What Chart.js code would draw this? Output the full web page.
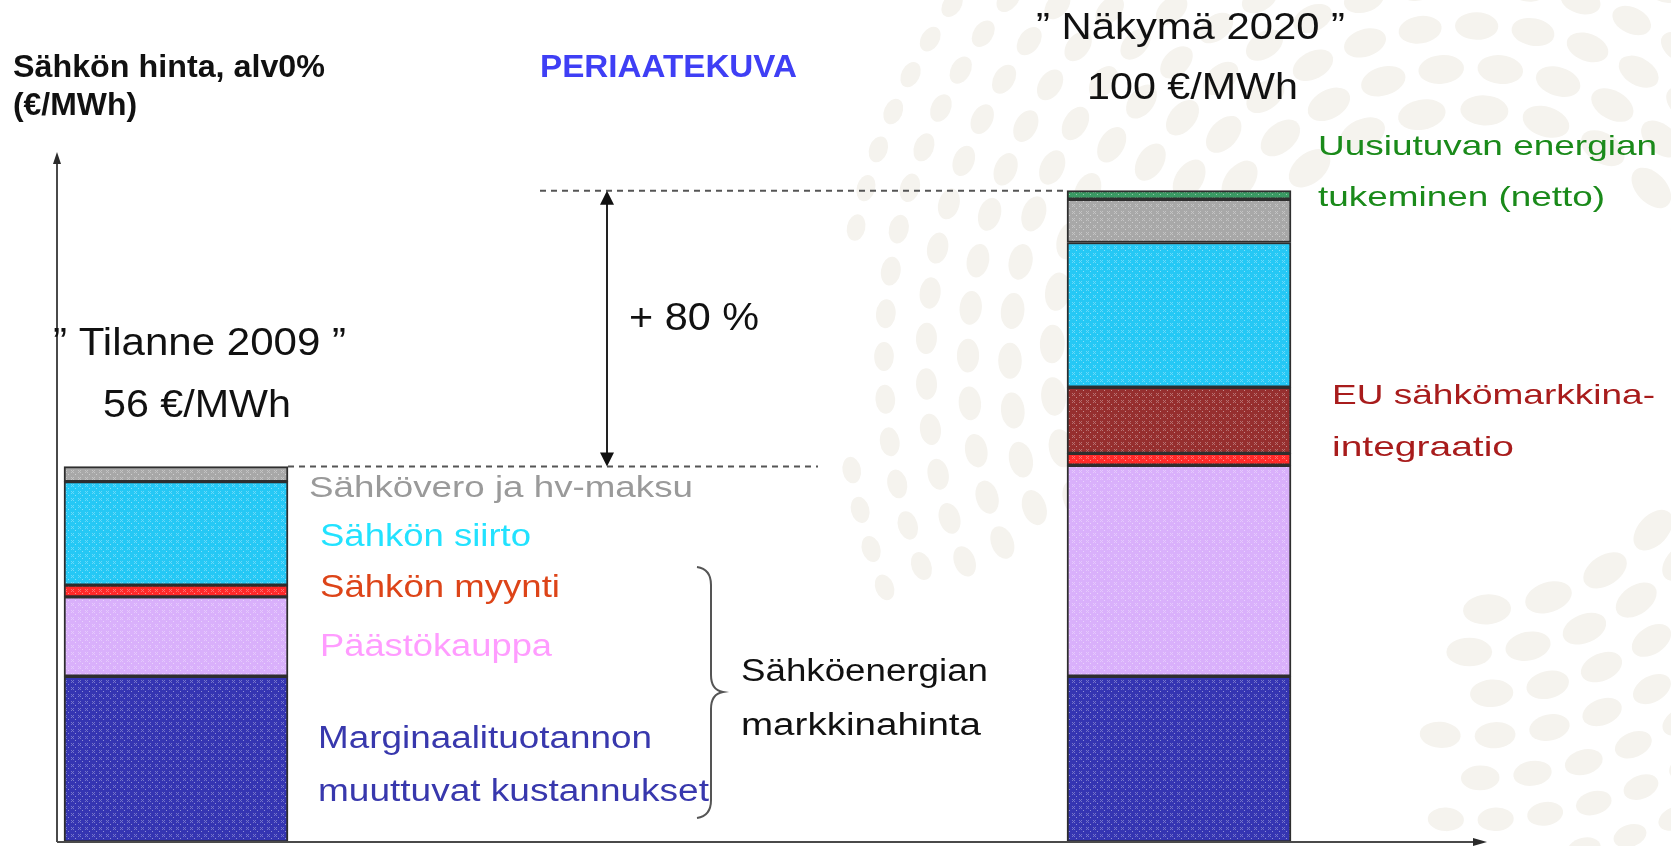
<!DOCTYPE html>
<html lang="fi">
<head>
<meta charset="UTF-8">
<title>Sähkön hinta 2009 / 2020</title>
<script src="https://cdn.jsdelivr.net/npm/chart.js"></script>
<style>
  html, body { margin: 0; padding: 0; background: #fff; }
  #wrap { width: 1671px; height: 846px; position: relative; }
</style>
</head>
<body>
<div id="wrap"><canvas id="priceChart"></canvas></div>
<script>
// categories (bar index 0 = 2009, 1 = 2020)
const categories = ['Tilanne 2009', 'Näkymä 2020'];
const totalLabels = ['56 €/MWh', '100 €/MWh'];

// stacked components, €/MWh, bottom to top
const marginaali = [25.3, 25.3];
const paastokauppa = [12.1, 32.2];
const myynti = [1.8, 1.8];
const euIntegraatio = [null, 10.1];
const siirto = [15.8, 22.1];
const vero = [2.3, 6.6];
const uusiutuva = [null, 1.3];

const FONT = '"Liberation Sans", Arial, sans-serif';

// small cross-hatch texture like the original bars
function texture(base) {
    const c = document.createElement('canvas');
    c.width = 7; c.height = 7;
    const g = c.getContext('2d');
    g.fillStyle = base;
    g.fillRect(0, 0, 7, 7);
    g.fillStyle = 'rgba(255,255,255,0.32)';
    g.fillRect(1, 1, 1, 1); g.fillRect(3, 1, 1, 1);
    g.fillRect(2, 2, 1, 1);
    g.fillRect(1, 3, 1, 1); g.fillRect(3, 3, 1, 1);
    g.fillStyle = 'rgba(255,255,255,0.45)';
    g.fillRect(5, 5, 1, 1);
    return g.createPattern(c, 'repeat');
}

function toPoints(arr) {
    return arr.map((v, i) => ({ x: i, y: v }));
}

function ds(label, values, color) {
    return {
        label,
        data: toPoints(values),
        backgroundColor: texture(color),
        borderColor: '#2e2e2e',
        borderWidth: 2,
        borderSkipped: false,
        barThickness: 224
    };
}

// text annotations: text, left x, baseline, width, size, colour, bold
const notes = [
    ['Sähkön hinta, alv0%', 13, 77, 312, 32, '#111', true],
    ['(€/MWh)', 13, 115, 124, 32, '#111', true],
    ['PERIAATEKUVA', 540, 77, 257, 31, '#3f3ff5', true],
    ['” ' + categories[1] + ' ”', 1036, 39, 309, 36, '#111', false],
    [totalLabels[1], 1087, 99, 211, 37, '#111', false],
    ['Uusiutuvan energian', 1318, 155, 339, 28, '#1a8a1a', false],
    ['tukeminen (netto)', 1318, 206, 287, 28, '#1a8a1a', false],
    ['EU sähkömarkkina-', 1332, 404, 323, 28, '#a81c1c', false],
    ['integraatio', 1332, 456, 182, 28, '#a81c1c', false],
    ['” ' + categories[0] + ' ”', 53, 355, 293, 38, '#111', false],
    [totalLabels[0], 103, 417, 188, 38, '#111', false],
    ['+ 80 %', 629, 330, 130, 38, '#111', false],
    ['Sähkövero ja hv-maksu', 309, 497, 384, 30, '#9a9a9a', false],
    ['Sähkön siirto', 320, 546, 211, 31, '#22e2ff', false],
    ['Sähkön myynti', 320, 597, 240, 31, '#dd4418', false],
    ['Päästökauppa', 320, 656, 232, 31, '#ff9cff', false],
    ['Marginaalituotannon', 318, 748, 334, 31, '#3838ad', false],
    ['muuttuvat kustannukset', 318, 801, 391, 31, '#3838ad', false],
    ['Sähköenergian', 741, 681, 247, 31, '#111', false],
    ['markkinahinta', 741, 735, 240, 31, '#111', false]
];

function fitText(ctx, t) {
    const [str, x, base, w, size, color, bold] = t;
    ctx.font = (bold ? 'bold ' : '') + size + 'px ' + FONT;
    const m = ctx.measureText(str).width;
    ctx.save();
    ctx.translate(x, base);
    ctx.scale(w / m, 1);
    ctx.fillStyle = color;
    ctx.textBaseline = 'alphabetic';
    ctx.fillText(str, 0, 0);
    ctx.restore();
}

function arrowHead(ctx, x, y, dir, half, len) {
    // dir: 'up' | 'down' | 'right'
    ctx.beginPath();
    if (dir === 'up') {
        ctx.moveTo(x, y); ctx.lineTo(x - half, y + len); ctx.lineTo(x + half, y + len);
    } else if (dir === 'down') {
        ctx.moveTo(x, y); ctx.lineTo(x - half, y - len); ctx.lineTo(x + half, y - len);
    } else {
        ctx.moveTo(x, y); ctx.lineTo(x - len, y - half); ctx.lineTo(x - len, y + half);
    }
    ctx.closePath();
    ctx.fill();
}

// faint dotted swirl of the slide template
const backdrop = {
    id: 'backdrop',
    beforeDraw(chart) {
        const ctx = chart.ctx;
        ctx.save();
        ctx.fillStyle = '#fff';
        ctx.fillRect(0, 0, chart.width, chart.height);
        ctx.fillStyle = '#f5f3ee';
        const cx = 1470, cy = 360;
        for (let r = 250; r <= 640; r += 42) {
            const t = (r - 250) / 390;
            const a = 24 - 11 * t;
            const b = 15 - 6 * t;
            const n = Math.round(2 * Math.PI * r / (a * 2 + 14));
            for (let k = 0; k < n; k++) {
                const ang = k / n * 2 * Math.PI + r * 0.004;
                const deg = ang * 180 / Math.PI % 360;
                if (deg > 95 && deg < 158) continue;
                const x = cx + r * Math.cos(ang), y = cy + r * Math.sin(ang);
                if (x < 850 || y > 860 || y < -30) continue;
                ctx.beginPath();
                ctx.ellipse(x, y, b, a, ang, 0, 2 * Math.PI);
                ctx.fill();
            }
        }
        ctx.restore();
    }
};

const overlay = {
    id: 'overlay',
    afterDraw(chart) {
        const ctx = chart.ctx;
        const { left, right, top, bottom } = chart.chartArea;
        const xs = chart.scales.x, ys = chart.scales.y;
        const half = 112;
        const total = i => [marginaali, paastokauppa, myynti, euIntegraatio, siirto, vero, uusiutuva]
            .reduce((s, a) => s + (a[i] || 0), 0);
        const yOld = ys.getPixelForValue(total(0));
        const yNew = ys.getPixelForValue(total(1));
        const oldRight = xs.getPixelForValue(0) + half;
        const newLeft = xs.getPixelForValue(1) - half;

        ctx.save();
        // axes
        ctx.strokeStyle = '#4a4a4a';
        ctx.fillStyle = '#2a2a2a';
        ctx.lineWidth = 2;
        ctx.beginPath();
        ctx.moveTo(left, bottom); ctx.lineTo(left, top + 8);
        ctx.moveTo(left, bottom); ctx.lineTo(right - 10, bottom);
        ctx.stroke();
        arrowHead(ctx, left, top - 2, 'up', 4, 12);
        arrowHead(ctx, right, bottom, 'right', 4, 14);

        // dashed reference lines
        ctx.strokeStyle = '#555';
        ctx.setLineDash([6, 5]);
        ctx.beginPath();
        ctx.moveTo(540, yNew); ctx.lineTo(newLeft, yNew);
        ctx.moveTo(oldRight, yOld); ctx.lineTo(818, yOld);
        ctx.stroke();
        ctx.setLineDash([]);

        // double arrow for the increase
        ctx.strokeStyle = '#222';
        ctx.fillStyle = '#111';
        ctx.beginPath();
        ctx.moveTo(607, yNew + 10); ctx.lineTo(607, yOld - 10);
        ctx.stroke();
        arrowHead(ctx, 607, yNew, 'up', 7, 14);
        arrowHead(ctx, 607, yOld, 'down', 7, 14);

        // curly brace
        ctx.strokeStyle = '#555';
        ctx.lineWidth = 2;
        ctx.beginPath();
        ctx.moveTo(697, 567);
        ctx.quadraticCurveTo(711, 569, 711, 585);
        ctx.lineTo(711, 675);
        ctx.quadraticCurveTo(711, 690, 723, 692);
        ctx.quadraticCurveTo(711, 694, 711, 709);
        ctx.lineTo(711, 800);
        ctx.quadraticCurveTo(711, 816, 697, 818);
        ctx.stroke();

        notes.forEach(t => fitText(ctx, t));
        ctx.restore();
    }
};

new Chart(document.getElementById('priceChart'), {
    type: 'bar',
    data: {
        datasets: [
            ds('Marginaalituotannon muuttuvat kustannukset', marginaali, '#3535b2'),
            ds('Päästökauppa', paastokauppa, '#d9b0fb'),
            ds('Sähkön myynti', myynti, '#ff2a2a'),
            ds('EU sähkömarkkinaintegraatio', euIntegraatio, '#962f2f'),
            ds('Sähkön siirto', siirto, '#25c8f5'),
            ds('Sähkövero ja hv-maksu', vero, '#a8a8a8'),
            ds('Uusiutuvan energian tukeminen (netto)', uusiutuva, '#3a9a64')
        ]
    },
    options: {
        responsive: true,
        maintainAspectRatio: false,
        animation: false,
        layout: { padding: { left: 57, right: 184, top: 154, bottom: 4 } },
        plugins: { legend: { display: false }, tooltip: { enabled: false } },
        scales: {
            x: { type: 'linear', stacked: true, display: false, offset: false, min: -0.11865, max: 1.30707 },
            y: { stacked: true, display: false, min: 0, max: 105 }
        }
    },
    plugins: [backdrop, overlay]
});
</script>
</body>
</html>
